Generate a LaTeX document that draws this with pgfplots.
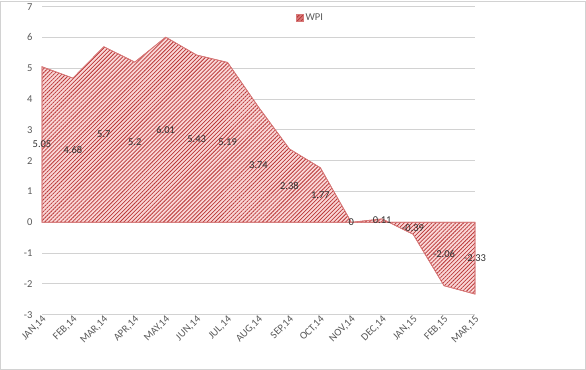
\documentclass[border=0pt]{standalone}
\usepackage{pgfplots}
\pgfplotsset{compat=1.18}
\usepackage{pgfplotstable}
\usetikzlibrary{patterns.meta}
\usepackage{fontspec}
\setmainfont{Carlito}
\definecolor{txt}{RGB}{89,89,89}
\definecolor{lbl}{RGB}{50,50,50}
\definecolor{gridc}{RGB}{210,210,210}
\definecolor{hatch}{RGB}{185,55,55}
\definecolor{bg}{RGB}{250,215,215}
\definecolor{edge}{RGB}{215,120,120}
\pgfplotstableread{
x y
0 5.05
1 4.68
2 5.7
3 5.2
4 6.01
5 5.43
6 5.19
7 3.74
8 2.38
9 1.77
10 0
11 0.11
12 -0.39
13 -2.06
14 -2.33
}\wpi
\begin{document}
\begin{tikzpicture}[x=1bp,y=1bp]
\begin{axis}[
  scale only axis,
  width=433bp, height=308bp,
  xmin=0, xmax=14, ymin=-3, ymax=7,
  ytick={-3,...,7},
  xtick={0,...,14},
  xticklabels={{JAN,14},{FEB,14},{MAR,14},{APR,14},{MAY,14},{JUN,14},{JUL,14},{AUG,14},{SEP,14},{OCT,14},{NOV,14},{DEC,14},{JAN,15},{FEB,15},{MAR,15}},
  xticklabel style={rotate=45, anchor=east, font=\fontsize{10.5bp}{12bp}\selectfont, text=txt, xshift=3bp, yshift=-4bp},
  yticklabel style={font=\fontsize{10.5bp}{12bp}\selectfont, text=txt, xshift=-6bp},
  /pgf/number format/assume math mode=true,
  axis line style={draw=none},
  major tick length=0pt,
  legend style={draw=none, fill=none, at={(0.62,0.964)}, anchor=center, font=\fontsize{10.5bp}{12bp}\selectfont, text=txt, legend cell align=left},
  legend image code/.code={\fill[bg] (0bp,-3.5bp) rectangle (7bp,3.5bp); \path[pattern={Lines[angle=45,distance=2bp,line width=0.6bp]}, pattern color=hatch] (0bp,-3.5bp) rectangle (7bp,3.5bp); \draw[edge, line width=0.5bp] (0bp,-3.5bp) rectangle (7bp,3.5bp);},
  clip=false,
]
\pgfplotsinvokeforeach{-3,...,7}{\draw[gridc, line width=0.9bp] (axis cs:0,#1) -- (axis cs:14,#1);}
\addplot[fill=bg, draw=edge, line width=0.7bp, postaction={pattern={Lines[angle=45,distance=2.8bp,line width=0.75bp]}, pattern color=hatch}] table[x=x,y=y] {\wpi} \closedcycle;
\addlegendentry{WPI}
\addplot[draw=none, mark=none, nodes near coords, point meta=explicit symbolic,
  every node near coord/.append style={anchor=center, font=\fontsize{10.5bp}{12bp}\selectfont, text=lbl},
  forget plot] table[x=x, y expr=\thisrow{y}/2, meta=y] {\wpi};
\end{axis}
\draw[gridc, line width=1bp] ([shift={(-41.5bp,-54.5bp)}]current axis.south west) rectangle ++(585bp,368bp);
\end{tikzpicture}
\end{document}
